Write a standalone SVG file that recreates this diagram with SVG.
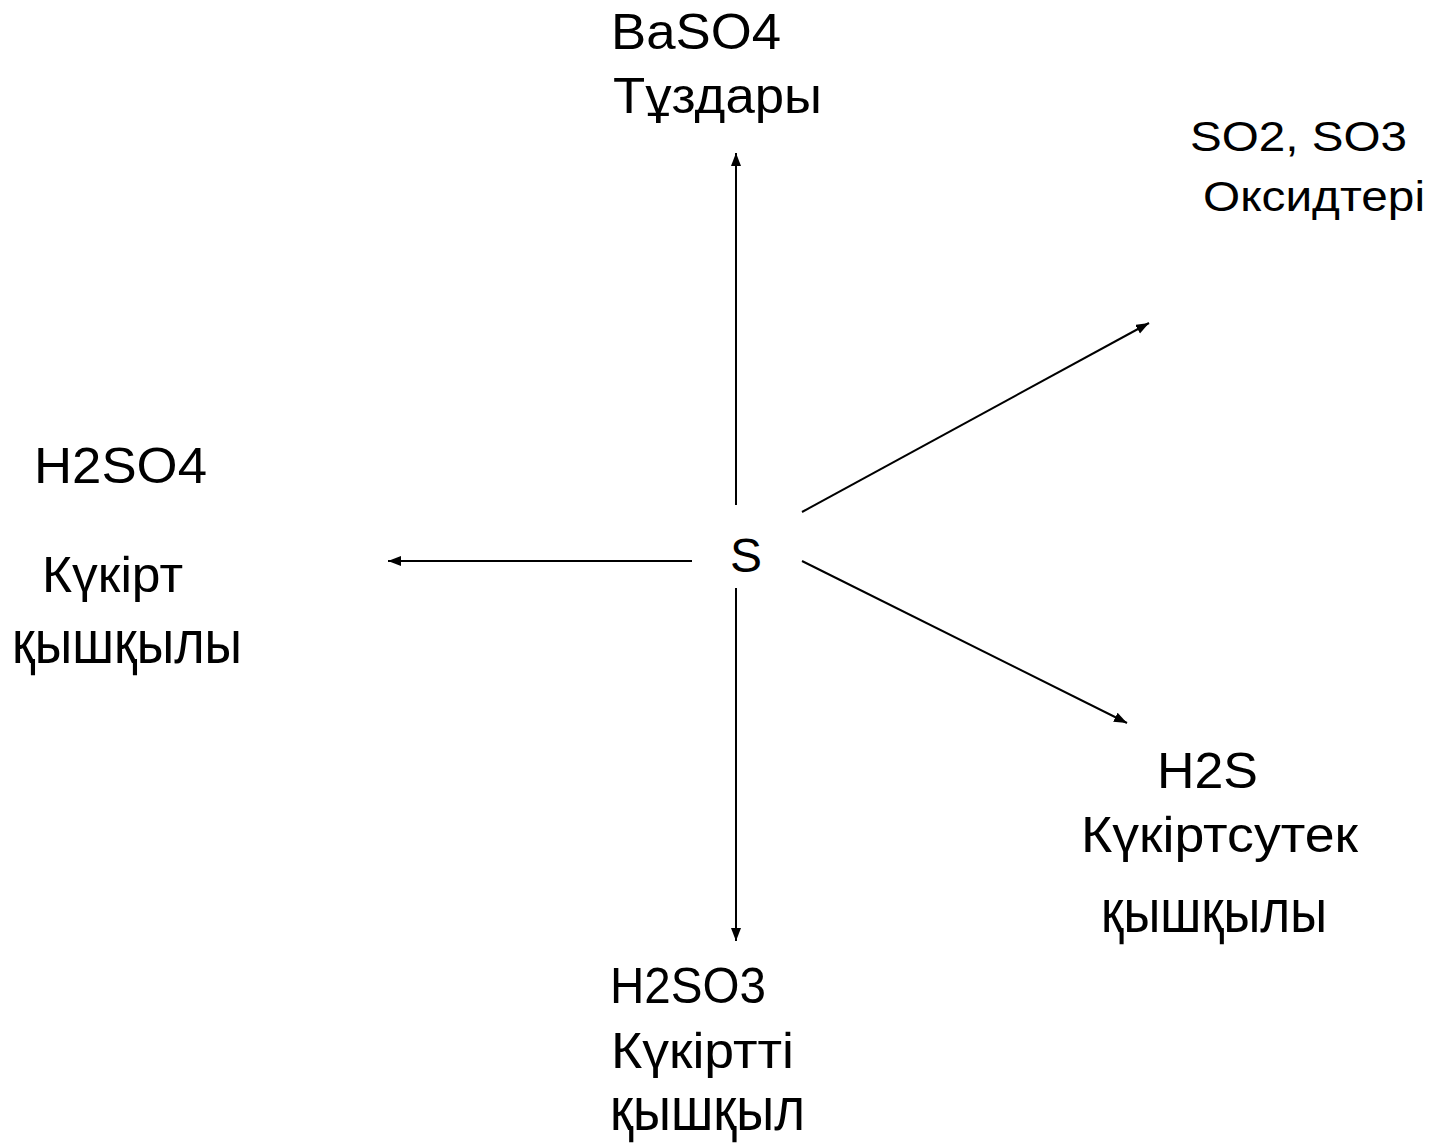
<svg xmlns="http://www.w3.org/2000/svg" width="1431" height="1146" viewBox="0 0 1431 1146">
<style>
text{font-family:"Liberation Sans",Arial,sans-serif;fill:#000}
.t{font-size:50px}
.big{font-size:62px}
.sm{font-size:43px}
.c line{stroke:#000;stroke-width:2;fill:none}
</style>
<defs>
<marker id="ah" markerUnits="userSpaceOnUse" markerWidth="14" markerHeight="11" refX="13" refY="5" orient="auto">
<path d="M0,0 L13,5 L0,10 z" fill="#000"/>
</marker>
</defs>
<rect width="1431" height="1146" fill="#fff"/>
<g id="connectors" class="c">
<line x1="736" y1="505" x2="736" y2="153" marker-end="url(#ah)"/>
<line x1="736" y1="588" x2="736" y2="941" marker-end="url(#ah)"/>
<line x1="692" y1="561" x2="388" y2="561" marker-end="url(#ah)"/>
<line x1="802" y1="512" x2="1149" y2="323" marker-end="url(#ah)"/>
<line x1="802" y1="561" x2="1127" y2="723" marker-end="url(#ah)"/>
</g>
<g id="node-s"><text class="t" x="746" y="572" text-anchor="middle" style="font-size:48px">S</text></g>
<g id="node-baso4">
<text class="t" x="611" y="49" textLength="170" lengthAdjust="spacingAndGlyphs">BaSO4</text>
<text class="t" x="613" y="113" textLength="209" lengthAdjust="spacingAndGlyphs">Тұздары</text>
</g>
<g id="node-oxides">
<text class="sm" x="1190" y="151" textLength="217" lengthAdjust="spacingAndGlyphs">SO2, SO3</text>
<text class="sm" x="1203" y="211" textLength="222" lengthAdjust="spacingAndGlyphs">Оксидтері</text>
</g>
<g id="node-h2so4">
<text class="t" x="34" y="483" textLength="173" lengthAdjust="spacingAndGlyphs">H2SO4</text>
<text class="t" x="42" y="592" textLength="141" lengthAdjust="spacingAndGlyphs">Күкірт</text>
<text class="big" x="12" y="663" textLength="230" lengthAdjust="spacingAndGlyphs">қышқылы</text>
</g>
<g id="node-h2s">
<text class="t" x="1157" y="788" textLength="101" lengthAdjust="spacingAndGlyphs">H2S</text>
<text class="t" x="1081" y="852" textLength="277" lengthAdjust="spacingAndGlyphs">Күкіртсутек</text>
<text class="big" x="1101" y="932" textLength="226" lengthAdjust="spacingAndGlyphs">қышқылы</text>
</g>
<g id="node-h2so3">
<text class="t" x="610" y="1003" textLength="156" lengthAdjust="spacingAndGlyphs">H2SO3</text>
<text class="t" x="611" y="1068" textLength="183" lengthAdjust="spacingAndGlyphs">Күкіртті</text>
<text class="big" x="610" y="1130" textLength="195" lengthAdjust="spacingAndGlyphs">қышқыл</text>
</g>
</svg>
